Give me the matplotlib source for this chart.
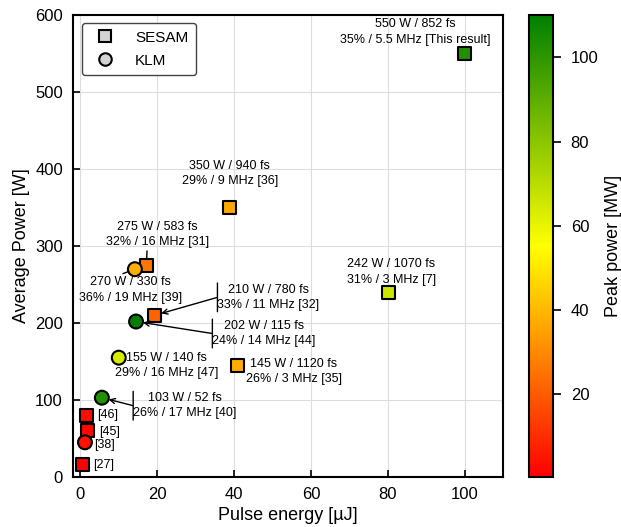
import matplotlib
matplotlib.use("Agg")
import matplotlib.pyplot as plt
import numpy as np
from matplotlib.colors import LinearSegmentedColormap, Normalize
from matplotlib.lines import Line2D
from matplotlib.text import Text

plt.rcParams['font.family'] = ['Liberation Sans', 'DejaVu Sans']

# ---- data ----
sesam_energy = [100, 38.9, 17.2, 80.2, 19.3, 41.0, 1.5, 1.9, 0.6]
sesam_power = [550, 350, 275, 240, 210, 145, 80, 60, 16]
sesam_peak = [103, 36.4, 26.0, 66.0, 21.5, 38.0, 3.0, 2.5, 0.4]
sesam_labels = ["550 W / 852 fs\n35% / 5.5 MHz [This result]",
                "350 W / 940 fs\n29% / 9 MHz [36]",
                "275 W / 583 fs\n32% / 16 MHz [31]",
                "242 W / 1070 fs\n31% / 3 MHz [7]",
                "210 W / 780 fs\n33% / 11 MHz [32]",
                "145 W / 1120 fs\n26% / 3 MHz [35]",
                "[46]", "[45]", "[27]"]

klm_energy = [14.2, 14.5, 10.0, 5.6, 1.2]
klm_power = [270, 202, 155, 103, 45]
klm_peak = [37.9, 110, 64.0, 102.6, 4.0]
klm_labels = ["270 W / 330 fs\n36% / 19 MHz [39]",
              "202 W / 115 fs\n24% / 14 MHz [44]",
              "155 W / 140 fs\n29% / 16 MHz [47]",
              "103 W / 52 fs\n26% / 17 MHz [40]",
              "[38]"]

x_ticks = [0, 20, 40, 60, 80, 100]
y_ticks = [0, 100, 200, 300, 400, 500, 600]
cbar_ticks = [20, 40, 60, 80, 100]

# label styles: (offset px, kind, ha, relpos)
sesam_style = [((-49, 22), 'plain', 'center', None),
               ((0, 34), 'plain', 'center', None),
               ((11, 31), 'line', 'center', (0.4, 0.0)),
               ((3, 20), 'plain', 'center', None),
               ((114, 18), 'bracket', 'center', None),
               ((56, -6), 'plain', 'center', None),
               ((11, 0), 'plain', 'left', None),
               ((11, -1), 'plain', 'left', None),
               ((10, 0), 'plain', 'left', None)]
klm_style = [((-4, -21), 'line', 'center', (0.35, 1.0)),
             ((128, -12), 'bracket', 'center', None),
             ((48, -8), 'plain', 'center', None),
             ((83, -8), 'bracket', 'center', None),
             ((9, -3), 'plain', 'left', None)]

cmap = LinearSegmentedColormap.from_list("ryg", ["#ff0000", "#ffff00", "#008000"])
all_peak = sesam_peak + klm_peak
norm = Normalize(vmin=min(all_peak), vmax=max(all_peak))

fig = plt.figure(figsize=(6.21, 5.27), dpi=100)
ax = fig.add_axes([0.117, 0.095, 0.693, 0.876])
cax = fig.add_axes([0.852, 0.095, 0.038, 0.876])

ax.grid(True, color='#dddddd', linewidth=0.8, zorder=0)
ax.set_axisbelow(True)

sc = ax.scatter(sesam_energy, sesam_power, c=sesam_peak, cmap=cmap, norm=norm,
                marker='s', s=90, edgecolors='black', linewidths=1.5, zorder=3)
ax.scatter(klm_energy, klm_power, c=klm_peak, cmap=cmap, norm=norm,
           marker='o', s=100, edgecolors='black', linewidths=1.5, zorder=3)

fs = 9
ls = 1.4

def text_only_bbox(t):
    def f(renderer):
        t.update_positions(renderer)
        return Text.get_window_extent(t, renderer)
    return f

def add_labels(xs, ys, labels, styles):
    for x, y, lab, (off, kind, ha, relpos) in zip(xs, ys, labels, styles):
        common = dict(xy=(x, y), xytext=off, textcoords='offset pixels',
                      ha=ha, va='center', multialignment='center', fontsize=fs,
                      linespacing=ls, zorder=4)
        if kind == 'plain':
            ax.annotate(lab, **common)
        elif kind == 'line':
            ax.annotate(lab, **common,
                        arrowprops=dict(arrowstyle='-', color='black', lw=1.0,
                                        relpos=relpos, shrinkA=0, shrinkB=5))
        else:
            t = ax.annotate(lab, **common,
                            arrowprops=dict(arrowstyle='->,head_length=0.4,head_width=0.2',
                                            color='black', lw=1.0, relpos=(0, 0.5),
                                            patchA=None, shrinkA=0, shrinkB=5))
            tb = text_only_bbox(t)
            ax.annotate('', xy=(0, -0.02), xycoords=tb, xytext=(0, 1.02), textcoords=tb,
                        arrowprops=dict(arrowstyle='-', color='black', lw=1.0,
                                        shrinkA=0, shrinkB=0), zorder=5)

add_labels(sesam_energy, sesam_power, sesam_labels, sesam_style)
add_labels(klm_energy, klm_power, klm_labels, klm_style)

ax.set_xlim(-2, 110)
ax.set_ylim(0, 600)
ax.set_xticks(x_ticks)
ax.set_yticks(y_ticks)
ax.tick_params(direction='in', length=5, width=1.2, labelsize=12, pad=7)
for s in ax.spines.values():
    s.set_linewidth(1.5)
ax.set_xlabel("Pulse energy [µJ]", fontsize=13)
ax.set_ylabel("Average Power [W]", fontsize=13)

handles = [Line2D([], [], marker='s', linestyle='none', markerfacecolor='#d3d3d3',
                  markeredgecolor='black', markeredgewidth=1.5, markersize=9),
           Line2D([], [], marker='o', linestyle='none', markerfacecolor='#d3d3d3',
                  markeredgecolor='black', markeredgewidth=1.5, markersize=9)]
leg = ax.legend(handles, ["SESAM", "KLM"], loc='upper left', fontsize=11,
                framealpha=1, edgecolor='#444444', fancybox=True,
                borderpad=0.5, handletextpad=1.0, labelspacing=0.6,
                bbox_to_anchor=(0.003, 1.0))

cb = fig.colorbar(sc, cax=cax, ticks=cbar_ticks)
cb.outline.set_linewidth(1.5)
cax.tick_params(labelsize=12, length=6, width=1.2, pad=7)
cb.set_label("Peak power [MW]", fontsize=13, labelpad=5)

fig.savefig("out.png", dpi=100)
